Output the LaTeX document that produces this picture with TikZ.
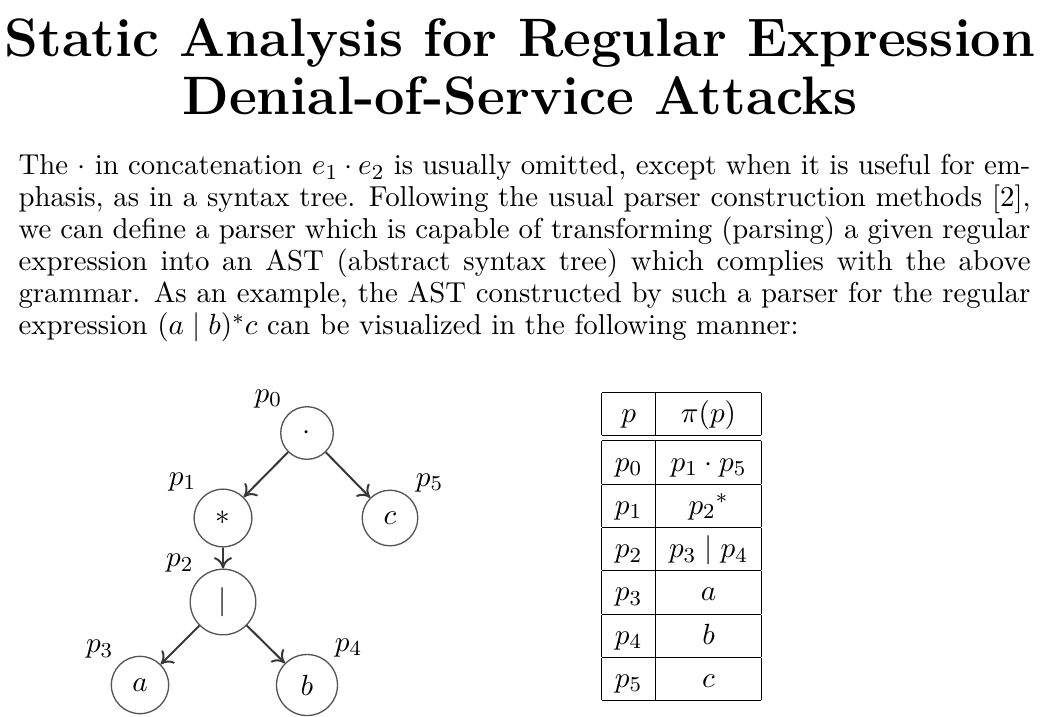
\documentclass[tikz,border=0pt]{standalone}
\usepackage{amsmath,amssymb}
\usepackage{xcolor}
\usepackage{tikz}
\usetikzlibrary{arrows.meta,positioning}
\definecolor{treegray}{RGB}{55,55,55}
\definecolor{ringgray}{RGB}{85,85,85}
\newcommand{\bodysize}{\fontsize{10.8}{12}\selectfont}
\tikzset{
  astnode/.style={circle,draw=ringgray,line width=0.5pt,inner sep=5pt,
    minimum size=17.5pt,font=\bodysize},
  darrow/.style={-{To[length=1.5mm,width=2.4mm]},line width=0.75pt,color=treegray},
  plabel/.style={font=\bodysize,inner sep=2pt},
  titletext/.style={font=\fontsize{20.3}{21.8}\selectfont\bfseries,align=center},
  bodytext/.style={font=\bodysize,text width=379.5pt,align=justify,inner sep=0pt}
}

\begin{document}
\begin{tikzpicture}[x=0.375pt,y=-0.375pt]
  \useasboundingbox (0,0) rectangle (1040,716);

  % Title and paragraph
  \node[titletext,anchor=north] (title) at (520,9)
    {Static Analysis for Regular Expression\\Denial-of-Service Attacks};
  \node[bodytext,anchor=north west] (para) at (18,154)
    {The $\cdot$ in concatenation $e_1\cdot e_2$ is usually omitted, except when it is useful for em-\linebreak
     phasis, as in a syntax tree. Following the usual parser construction methods [2],\linebreak
     we can define a parser which is capable of transforming (parsing) a given regular\linebreak
     expression into an AST (abstract syntax tree) which complies with the above\linebreak
     grammar. As an example, the AST constructed by such a parser for the regular\linebreak
     expression $(a\mid b)^*c$ can be visualized in the following manner:};

  % Syntax tree
  \node[astnode,label={[plabel,name=l0]135:$p_0$}] (n0) at (307,433) {$\cdot$};
  \node[astnode,label={[plabel,name=l1]135:$p_1$}] (n1) at (223,518) {$*$};
  \node[astnode,label={[plabel,name=l5]45:$p_5$}]  (n5) at (390,518) {$c$};
  \node[astnode,label={[plabel,name=l2]135:$p_2$}] (n2) at (223,602) {$|$};
  \node[astnode,label={[plabel,name=l3]135:$p_3$}] (n3) at (140,685) {$a$};
  \node[astnode,label={[plabel,name=l4]45:$p_4$}]  (n4) at (307,685) {$b$};

  \foreach \a/\b in {n0/n1,n0/n5,n1/n2,n2/n3,n2/n4}
    \draw[darrow] (\a) -- (\b);

  % Table of positions
  \node[inner sep=0pt,font=\bodysize] (tbl) at (681.5,546.5)
    {\renewcommand{\arraystretch}{1.32}\setlength{\tabcolsep}{5pt}%
     \begin{tabular}{|c|c|}
       \hline
       $p$ & $\pi(p)$ \\ \hline\hline
       $p_0$ & $p_1\cdot p_5$ \\ \hline
       $p_1$ & $p_2{}^*$ \\ \hline
       $p_2$ & $p_3\mid p_4$ \\ \hline
       $p_3$ & $a$ \\ \hline
       $p_4$ & $b$ \\ \hline
       $p_5$ & $c$ \\ \hline
     \end{tabular}};
\end{tikzpicture}
\end{document}
